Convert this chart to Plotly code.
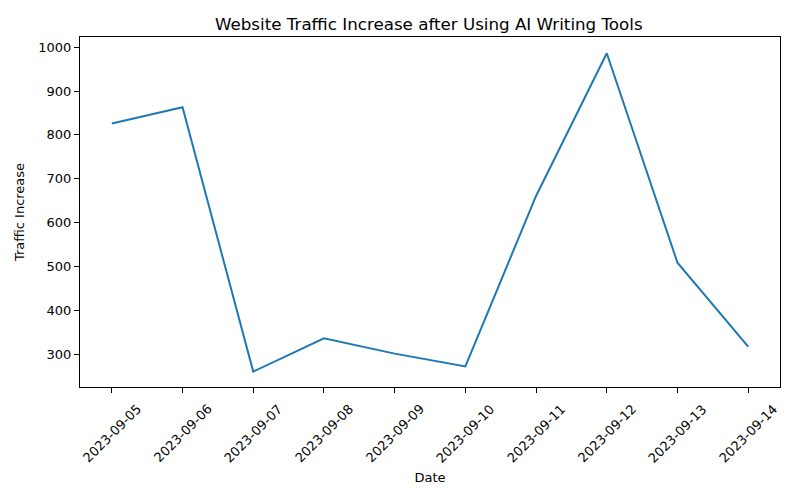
import plotly.graph_objects as go

dates = ["2023-09-05", "2023-09-06", "2023-09-07", "2023-09-08", "2023-09-09",
         "2023-09-10", "2023-09-11", "2023-09-12", "2023-09-13", "2023-09-14"]
traffic = [826, 863, 261, 337, 302, 273, 661, 986, 509, 318]
y_ticks = [300, 400, 500, 600, 700, 800, 900, 1000]

fig = go.Figure()
fig.add_trace(go.Scatter(x=dates, y=traffic, mode="lines",
                         line=dict(color="#1f77b4", width=2)))

axis_common = dict(showline=True, linecolor="black", linewidth=1, mirror=True,
                   ticks="outside", ticklen=5, tickcolor="black", showgrid=False,
                   zeroline=False, automargin=False,
                   tickfont=dict(size=13, color="black"))

# rotated, centered tick labels (matplotlib style)
for d in dates:
    fig.add_annotation(x=d, xref="x", y=0, yref="paper", text=d, textangle=-45,
                       showarrow=False, xanchor="center", yanchor="top",
                       yshift=-11, font=dict(size=13, color="black"))

fig.update_layout(
    width=800, height=500,
    paper_bgcolor="white", plot_bgcolor="white",
    font=dict(family="DejaVu Sans", color="black"),
    title=dict(text="Website Traffic Increase after Using AI Writing Tools",
               x=0.526, xanchor="center", y=0.968, yanchor="middle",
               font=dict(size=16.7, color="black")),
    margin=dict(l=72, r=28, t=29, b=121),
    showlegend=False,
    xaxis=dict(type="category", range=[-0.45, 9.45], showticklabels=False,
               title=dict(text="Date", font=dict(size=13), standoff=80),
               **axis_common),
    yaxis=dict(range=[226, 1023], tickvals=y_ticks,
               title=dict(text="Traffic Increase", font=dict(size=13), standoff=10),
               **axis_common),
)

fig.write_html("out.html")
